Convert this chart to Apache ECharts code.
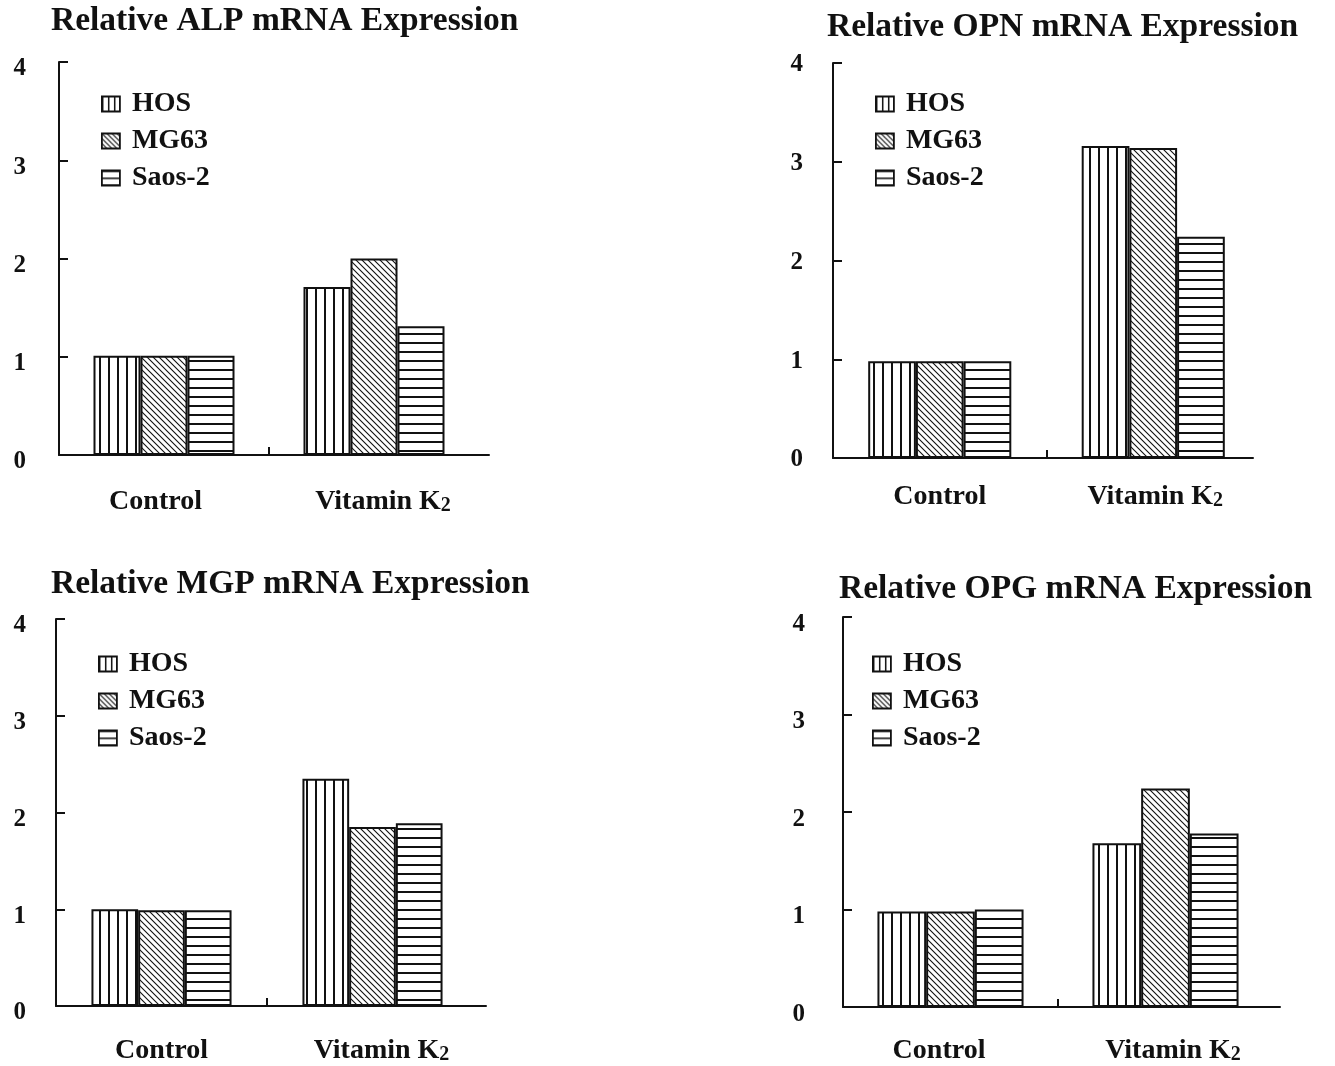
<!DOCTYPE html>
<html><head><meta charset="utf-8">
<script src="https://cdn.jsdelivr.net/npm/echarts@6/dist/echarts.min.js"></script>
<style>html,body{margin:0;padding:0;background:#fff}#c{width:1335px;height:1066px}</style>
</head><body><div id="c"></div>
<script>
// ---------- data ----------
const categories = ['Control', 'Vitamin K2'];
const seriesNames = ['HOS', 'MG63', 'Saos-2'];
const yTickValues = [0, 1, 2, 3, 4];
const panelTitles = ['Relative ALP mRNA Expression', 'Relative OPN mRNA Expression',
                     'Relative MGP mRNA Expression', 'Relative OPG mRNA Expression'];
// values per cell line: [Control, Vitamin K2]
const alpHOS   = [1.01, 1.71];
const alpMG63  = [1.01, 2.00];
const alpSaos2 = [1.01, 1.31];
const opnHOS   = [0.98, 3.16];
const opnMG63  = [0.98, 3.14];
const opnSaos2 = [0.98, 2.24];
const mgpHOS   = [1.00, 2.35];
const mgpMG63  = [0.99, 1.85];
const mgpSaos2 = [0.99, 1.89];
const opgHOS   = [0.98, 1.68];
const opgMG63  = [0.98, 2.24];
const opgSaos2 = [1.00, 1.78];
const panelData = [
  [alpHOS, alpMG63, alpSaos2],
  [opnHOS, opnMG63, opnSaos2],
  [mgpHOS, mgpMG63, mgpSaos2],
  [opgHOS, opgMG63, opgSaos2]
];

// ---------- layout / style ----------
const INK = '#111';
const FONT = 'Liberation Serif, Times New Roman, serif';
const layouts = [
  {grid:{left:59, top:62, width:420, height:393}, axisEnd:489, barWidth:47, title:{left:51, top:4.8}, legend:{left:101, top:90}, yMargin:33, yShift:7, xMargin:33, ctrlShift:-8.5, vkShift:9},
  {grid:{left:833, top:63, width:427, height:395}, axisEnd:1253, barWidth:47.7, title:{left:827, top:10.5}, legend:{left:875, top:90}, yMargin:30, yShift:2, xMargin:25, ctrlShift:0, vkShift:2},
  {grid:{left:56, top:619, width:422, height:387}, axisEnd:486, barWidth:46.7, title:{left:51, top:567.8}, legend:{left:98, top:650}, yMargin:30, yShift:7, xMargin:31, ctrlShift:0, vkShift:9},
  {grid:{left:843, top:617, width:430, height:390}, axisEnd:1280, barWidth:48.7, title:{left:839, top:572.8}, legend:{left:872, top:650}, yMargin:38, yShift:7.5, xMargin:30, ctrlShift:-11.5, vkShift:7.5}
];

function makePattern(kind, step, lw) {
  const c = document.createElement('canvas');
  let ctx;
  if (kind === 'v') {
    c.width = step; c.height = 4; ctx = c.getContext('2d');
    ctx.fillStyle = '#fff'; ctx.fillRect(0, 0, step, 4);
    ctx.fillStyle = INK; ctx.fillRect(0, 0, lw, 4);
  } else if (kind === 'h') {
    c.width = 4; c.height = step; ctx = c.getContext('2d');
    ctx.fillStyle = '#fff'; ctx.fillRect(0, 0, 4, step);
    ctx.fillStyle = INK; ctx.fillRect(0, 0, 4, lw);
  } else {
    const s = step;
    c.width = s; c.height = s; ctx = c.getContext('2d');
    ctx.fillStyle = '#fff'; ctx.fillRect(0, 0, s, s);
    ctx.strokeStyle = INK; ctx.lineWidth = lw;
    ctx.beginPath();
    ctx.moveTo(-1, -1); ctx.lineTo(s + 1, s + 1);
    ctx.moveTo(s - 1, -1); ctx.lineTo(s + 1, 1);
    ctx.moveTo(-1, s - 1); ctx.lineTo(1, s + 1);
    ctx.stroke();
  }
  return {image: c, repeat: 'repeat'};
}
const patterns = [makePattern('v', 9, 2), makePattern('d', 6, 1.1), makePattern('h', 9, 2)];
const iconPatterns = [makePattern('v', 6, 1.5), makePattern('d', 5, 1.1), makePattern('h', 7, 1.5)];

function pad(shift) {
  return shift < 0 ? [0, -2 * shift, 0, 0] : [0, 0, 0, 2 * shift];
}

const option = {
  animation: false,
  backgroundColor: '#fff',
  title: [], grid: [], xAxis: [], yAxis: [], legend: [], series: []
};

const n = layouts.length;
layouts.forEach((L, i) => {
  option.title.push({
    text: panelTitles[i], left: L.title.left, top: L.title.top, padding: 0,
    textStyle: {fontFamily: FONT, fontWeight: 'bold', fontSize: 33.5, lineHeight: 33.5, color: INK}
  });
  option.grid.push(Object.assign({containLabel: false}, L.grid));
  option.xAxis.push({
    type: 'category', gridIndex: i, data: categories, position: 'bottom',
    axisLine: {show: false},
    axisTick: {show: false},
    axisLabel: {
      margin: L.xMargin,
      interval: 0,
      formatter: (v) => v === 'Vitamin K2' ? '{v|Vitamin K}{s|2}' : '{c|' + v + '}',
      rich: {
        c: {fontFamily: FONT, fontWeight: 'bold', fontSize: 28, lineHeight: 28, color: INK, padding: pad(L.ctrlShift)},
        v: {fontFamily: FONT, fontWeight: 'bold', fontSize: 28, lineHeight: 28, color: INK, verticalAlign: 'bottom', padding: pad(L.vkShift)},
        s: {fontFamily: FONT, fontWeight: 'bold', fontSize: 20, lineHeight: 28, color: INK, verticalAlign: 'bottom'}
      }
    },
    splitLine: {show: false}
  });
  option.yAxis.push({
    type: 'value', gridIndex: i,
    min: yTickValues[0], max: yTickValues[yTickValues.length - 1], interval: 1,
    axisLine: {show: true, lineStyle: {color: INK, width: 2}},
    axisTick: {show: true, inside: true, length: 9, lineStyle: {color: INK, width: 2}},
    axisLabel: {
      margin: L.yMargin,
      formatter: (v) => '{n|' + v + '}',
      rich: {n: {fontFamily: FONT, fontWeight: 'bold', fontSize: 25, lineHeight: 25, color: INK,
                 padding: [2 * L.yShift, 0, 0, 0]}}
    },
    splitLine: {show: false}
  });
  option.legend.push({
    data: seriesNames.map((name, j) => ({
      name: name,
      itemStyle: {color: iconPatterns[j], borderColor: INK, borderWidth: 1.8}
    })),
    orient: 'vertical', left: L.legend.left, top: L.legend.top,
    padding: 0, itemWidth: 18, itemHeight: 15, itemGap: 9, icon: 'rect',
    selectedMode: false,
    formatter: '{a|{name}}',
    textStyle: {rich: {a: {fontFamily: FONT, fontWeight: 'bold', fontSize: 28, lineHeight: 28, color: INK, padding: [0, 0, 0, 7]}}}
  });
  seriesNames.forEach((name, j) => {
    option.series.push({
      type: 'bar', name: name, xAxisIndex: i, yAxisIndex: i,
      data: panelData[i][j],
      barWidth: L.barWidth, barGap: '0%',
      itemStyle: {color: patterns[j], borderColor: INK, borderWidth: 2},
      silent: true
    });
  });
});

// baseline axes: same origin as each panel, running on to the drawn axis end,
// measured in category-widths so the divider tick sits between the two groups
layouts.forEach((L, i) => {
  const extWidth = L.axisEnd - L.grid.left;
  const catWidth = L.grid.width / categories.length;
  option.grid.push({left: L.grid.left, top: L.grid.top, width: extWidth, height: L.grid.height});
  option.xAxis.push({
    type: 'value', gridIndex: n + i, position: 'bottom',
    min: 0, max: extWidth / catWidth,
    axisLine: {show: true, lineStyle: {color: INK, width: 2}},
    axisLabel: {show: false},
    splitLine: {show: false},
    axisTick: {show: true, inside: true, length: 8, lineStyle: {color: INK, width: 2},
               customValues: [1]}
  });
  option.yAxis.push({type: 'value', gridIndex: n + i, min: 0, max: 1, show: false});
});

const chart = echarts.init(document.getElementById('c'), null, {renderer: 'canvas'});
chart.setOption(option);
</script>
</body></html>
